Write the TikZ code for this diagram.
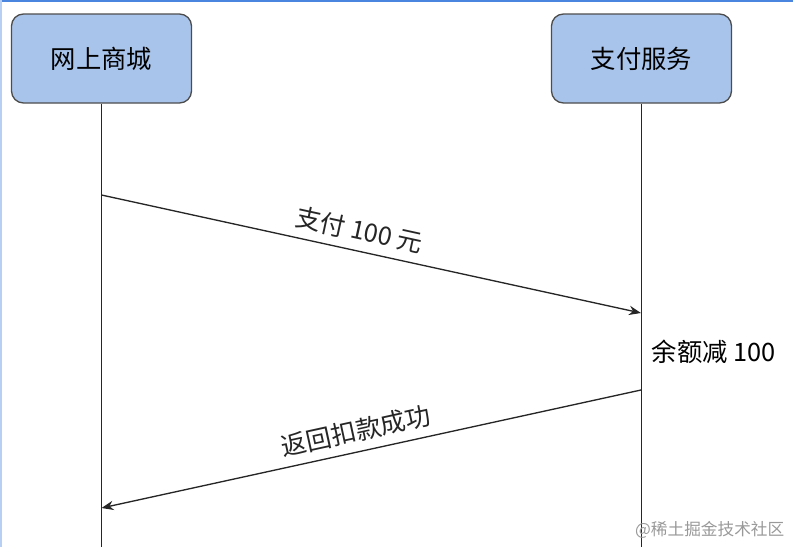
\documentclass[tikz,border=0pt]{standalone}
\usepackage{fontspec}
\usepackage{tikz}
\usetikzlibrary{arrows.meta}
\newfontfamily\cjk{Noto Sans CJK SC}
\definecolor{boxblue}{HTML}{A9C4EB}
\definecolor{boxline}{HTML}{4D4D4D}
\definecolor{frameblue}{HTML}{4A86E0}
\tikzset{
  party/.style={draw=boxline, fill=boxblue, line width=1pt, rounded corners=9pt,
    minimum width=135pt, minimum height=66.75pt, font=\cjk\fontsize{19}{23}\selectfont},
  life/.style={line width=1.3pt, color=black!85},
  msg/.style={-{Stealth[length=9pt,width=7pt]}, line width=1pt, color=black!85},
  lbl/.style={font=\cjk\fontsize{19}{23}\selectfont, sloped, above=3pt}
}
\begin{document}
\begin{tikzpicture}[x=0.75pt, y=-0.75pt]
\useasboundingbox (0,0) rectangle (793,547);
% frame of the screenshot
\draw[frameblue, line width=1.5pt] (0,1) -- (793,1);
\draw[frameblue!40, line width=1.5pt] (1,0) -- (1,547);
% the two parties
\node[party] (shop) at (101.5,58.5) {网上商城};
\node[party] (pay) at (641.5,58.5) {支付服务};
\coordinate (shopend) at (101.5,547);
\coordinate (payend) at (641.5,547);
\draw[life] (shop) -- (shopend);
\draw[life] (pay) -- (payend);
% messages
\coordinate (s1) at (101.5,195);
\coordinate (p1) at (641,313);
\draw[msg] (s1) -- node[lbl, pos=0.47] (paymsg) {支付 100 元} (p1);
\node[anchor=west, font=\cjk\fontsize{19}{23}\selectfont] (deduct) at (647,352) {余额减 100};
\coordinate (p2) at (641,390);
\coordinate (s2) at (101.5,508);
\draw[msg] (p2) -- node[lbl, pos=0.52] (okmsg) {返回扣款成功} (s2);
% watermark
\node[anchor=east, text=black!40, font=\cjk\fontsize{12.5}{15}\selectfont] (mark) at (789,530) {@稀土掘金技术社区};
\end{tikzpicture}
\end{document}
